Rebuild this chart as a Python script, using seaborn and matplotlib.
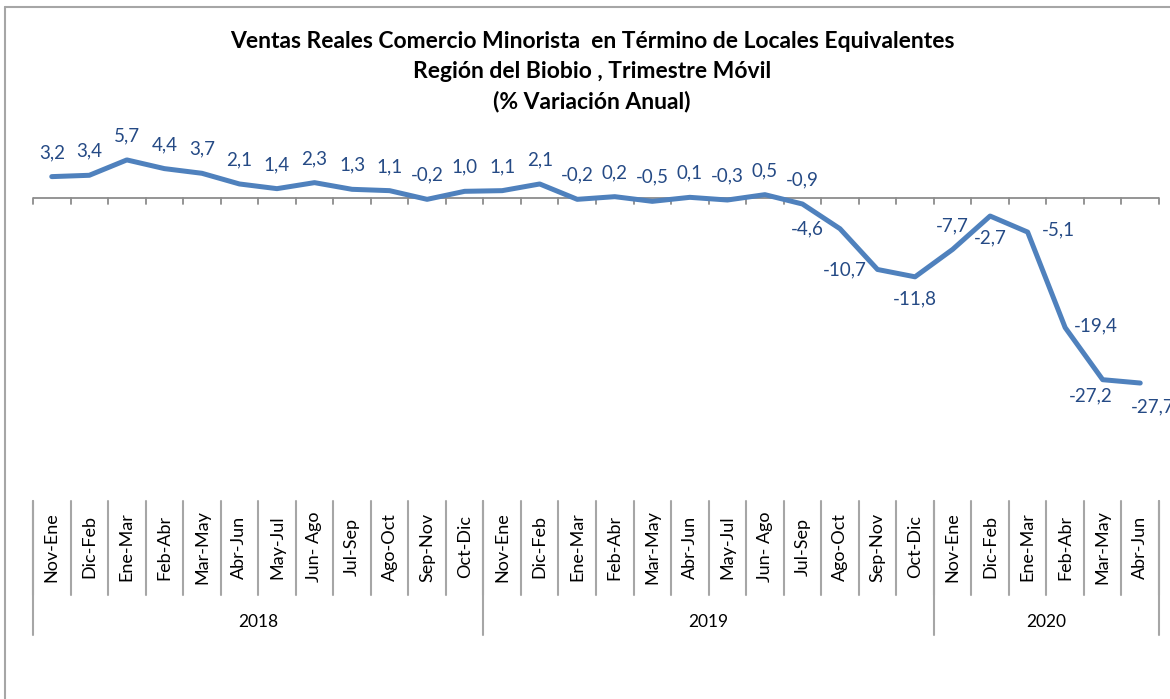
import matplotlib
matplotlib.use("Agg")
import matplotlib.pyplot as plt
import matplotlib.transforms as mtransforms
from matplotlib.lines import Line2D
import seaborn as sns
import pandas as pd

# datos del grafico
periodos = ["Nov-Ene", "Dic-Feb", "Ene-Mar", "Feb-Abr", "Mar-May", "Abr-Jun",
            "May-Jul", "Jun- Ago", "Jul-Sep", "Ago-Oct", "Sep-Nov", "Oct-Dic"]
etiquetas = periodos + periodos + periodos[:6]
anios = ["2018", "2019", "2020"]
meses_por_anio = [12, 12, 6]
variacion = [3.2, 3.4, 5.7, 4.4, 3.7, 2.1, 1.4, 2.3, 1.3, 1.1, -0.2, 1.0,
             1.1, 2.1, -0.2, 0.2, -0.5, 0.1, -0.3, 0.5, -0.9, -4.6, -10.7, -11.8,
             -7.7, -2.7, -5.1, -19.4, -27.2, -27.7]

# posicion de las etiquetas de datos (por defecto arriba)
posiciones = {21: "left", 22: "left", 23: "below", 25: "below",
              26: "right", 27: "right", 28: "below_left", 29: "below_right"}
offsets = {"above": (0, 24), "below": (0, -22), "left": (-33, 0), "right": (31, 2),
           "below_left": (-12, -16), "below_right": (13, -24)}

sns.set_style("white")
plt.rcParams["font.family"] = ["Lato", "DejaVu Sans"]

W, H = 1170, 699
fig = plt.figure(figsize=(W / 100, H / 100), dpi=100)

# area del grafico en pixeles
x0, x1 = 33, 1159
y_top, y_bot = 131.2, 498.6
ax = fig.add_axes([x0 / W, 1 - y_bot / H, (x1 - x0) / W, (y_bot - y_top) / H])

df = pd.DataFrame({"idx": range(len(variacion)), "valor": variacion})
sns.lineplot(data=df, x="idx", y="valor", ax=ax, color="#4F81BD", linewidth=3.6)

ax.set_xlim(-0.5, len(variacion) - 0.5)
ax.set_ylim(-45, 10)
ax.axis("off")

# eje horizontal en cero con marcas hacia abajo
gris = "#8C8C8C"
ax.axhline(0, color=gris, lw=1.3, zorder=1)
for b in range(len(variacion) + 1):
    ax.plot([b - 0.5, b - 0.5], [0, -0.9], color=gris, lw=1.3, clip_on=False, zorder=1)

# etiquetas de datos
for i, v in enumerate(variacion):
    pos = posiciones.get(i, "above")
    ax.annotate(f"{v:.1f}".replace(".", ","), (i, v), xytext=offsets[pos],
                textcoords="offset pixels", ha="center", va="center",
                fontsize=13.5, color="#254A85", annotation_clip=False)

# etiquetas de categorias debajo del grafico
trans = mtransforms.blended_transform_factory(ax.transData, fig.transFigure)


def fy(py):
    return 1 - py / H


for i, lab in enumerate(etiquetas):
    ax.text(i, fy(547), lab, transform=trans, rotation=90, ha="center",
            va="center", fontsize=13, color="black")

sep = "#A6A6A6"
for b in range(len(etiquetas) + 1):
    ax.add_line(Line2D([b - 0.5, b - 0.5], [fy(501), fy(595)], transform=trans,
                       color=sep, lw=1.5, clip_on=False))

inicio = 0
for anio, n in zip(anios, meses_por_anio):
    ax.add_line(Line2D([inicio - 0.5, inicio - 0.5], [fy(501), fy(635)],
                       transform=trans, color=sep, lw=1.5, clip_on=False))
    ax.text(inicio + (n - 1) / 2, fy(622), anio, transform=trans, ha="center",
            va="center", fontsize=12.5, color="black")
    inicio += n
ax.add_line(Line2D([inicio - 0.5, inicio - 0.5], [fy(501), fy(635)],
                   transform=trans, color=sep, lw=1.5, clip_on=False))

# titulo
titulo = ["Ventas Reales Comercio Minorista  en Término de Locales Equivalentes",
          "Región del Biobio , Trimestre Móvil",
          "(% Variación Anual)"]
for k, linea in enumerate(titulo):
    fig.text(592 / W, fy(42 + 30 * k), linea, ha="center", va="center",
             fontsize=16.5, fontweight="bold", color="black")

# marco del grafico
fig.add_artist(Line2D([5 / W, 5 / W], [0, fy(7)], transform=fig.transFigure,
                      color="#A6A6A6", lw=1.5))
fig.add_artist(Line2D([5 / W, 1], [fy(7), fy(7)], transform=fig.transFigure,
                      color="#A6A6A6", lw=1.5))

fig.savefig("out.png", dpi=100)
